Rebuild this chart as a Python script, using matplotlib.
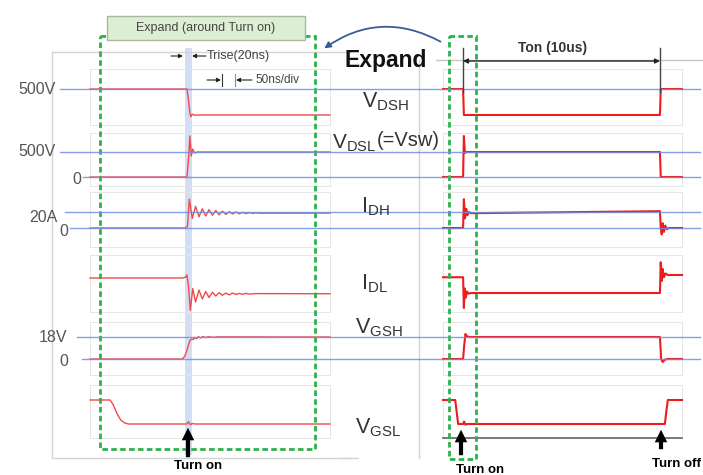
import matplotlib.pyplot as plt
from matplotlib.patches import Rectangle, FancyArrowPatch

plt.rcParams['font.family'] = ['Liberation Sans', 'DejaVu Sans']
plt.rcParams['mathtext.fontset'] = 'custom'
plt.rcParams['mathtext.rm'] = 'Liberation Sans'
plt.rcParams['mathtext.it'] = 'Liberation Sans'

W, H = 703, 475

# ---- expanded view around turn on (time in ns, 0 = turn on)
t_vdsh_l = [-204, -2, 1, 4, 6, 9, 14, 22, 296]
v_vdsh_l = [500, 500, 300, 40, -30, 15, -5, 0, 0]

t_vdsl_l = [-204, -2, 2, 4, 7, 10, 14, 20, 296]
v_vdsl_l = [0, 0, 450, 820, 420, 560, 480, 500, 500]

t_idh_l = [-204, -6, -1, 3, 9, 16, 23, 30, 37, 44, 51, 58, 65, 72, 79, 86, 93, 100,
           107, 114, 121, 128, 135, 142, 150, 296]
v_idh_l = [0, 0, 2, 36, 12, 27, 14, 24, 15, 23, 16, 22, 16.5, 21, 17, 20.5, 17.5, 20,
           17.8, 19.6, 18, 19.3, 18.3, 19, 18.5, 18.7]

t_idl_l = [-204, -12, -5, -2, 1, 5, 10, 16, 23, 30, 37, 44, 51, 58, 65, 72, 79, 86,
           93, 100, 107, 114, 121, 128, 140, 296]
v_idl_l = [20, 20, 21, 24, 10, -23, 6, -12, 4, -8, 2, -6, 1, -4, 0.5, -3, 0, -2.5,
           0, -2, -0.5, -1.8, -0.5, -1.5, -0.8, -1]

t_vgsh_l = [-204, -12, -7, -3, 1, 4, 8, 11, 14, 18, 22, 26, 31, 36, 43, 53, 63, 296]
v_vgsh_l = [0, 0, 2, 6, 11, 15, 16.5, 15.8, 17.6, 16.6, 18.3, 17.2, 18.4, 17.6, 18.2,
            17.8, 18.1, 18]

t_vgsl_l = [-204, -162, -155, -148, -140, -132, -124, -2, 1, 5, 9, 14, 296]
v_vgsl_l = [18, 18, 14, 8, 3, 0.8, 0, 0, 1.8, -0.6, 0.4, 0, 0]

# ---- full switching period (time in us, 0 = turn on)
t_vdsh_r = [-1.02, 0, 0.04, 10.0, 10.04, 11.12]
v_vdsh_r = [500, 500, 0, 0, 500, 500]

t_vdsl_r = [-1.02, 0, 0.04, 0.09, 0.15, 10.0, 10.04, 11.12]
v_vdsl_r = [0, 0, 820, 480, 500, 500, 0, 0]

t_idh_r = [-1.02, 0, 0.04, 0.1, 0.16, 0.22, 0.3, 0.4, 10.0, 10.04, 10.09, 10.14,
           10.2, 10.27, 10.35, 10.45, 11.12]
v_idh_r = [0, 0, 36, 12, 24, 16, 20, 18.5, 21, 0, -8, 6, -5, 3, -1.5, 0, 0]

t_idl_r = [-1.02, 0, 0.04, 0.09, 0.14, 0.2, 0.28, 0.4, 10.0, 10.04, 10.09, 10.14,
           10.2, 10.28, 10.4, 11.12]
v_idl_r = [21, 21, -20, 6, -6, 2, -1, 0, 0, 41, 16, 32, 21, 26, 24, 24]

t_vgsh_r = [-1.02, 0, 0.05, 0.12, 0.2, 0.3, 10.0, 10.06, 10.14, 10.25, 10.4, 11.12]
v_vgsh_r = [0, 0, 10, 20.5, 18.5, 18, 18, 0, -2.5, -0.5, 0, 0]

t_vgsl_r = [-1.02, -0.4, -0.25, 0.0, 0.05, 0.12, 0.2, 10.25, 10.32, 10.4, 11.12]
v_vgsl_r = [18, 18, 0, 0, 1.8, -0.5, 0, 0, 9, 18, 18]

# channel rows: (pixel y of 0, pixel y of ref level, ref value)
rows = [(115, 89, 500), (177, 152, 500), (228, 212, 20),
        (293, 278, 20), (359, 337, 18), (424, 400, 18)]
left_traces = [(t_vdsh_l, v_vdsh_l), (t_vdsl_l, v_vdsl_l), (t_idh_l, v_idh_l),
               (t_idl_l, v_idl_l), (t_vgsh_l, v_vgsh_l), (t_vgsl_l, v_vgsl_l)]
right_traces = [(t_vdsh_r, v_vdsh_r), (t_vdsl_r, v_vdsl_r), (t_idh_r, v_idh_r),
                (t_idl_r, v_idl_r), (t_vgsh_r, v_vgsh_r), (t_vgsl_r, v_vgsl_r)]
boxes = [(69, 125), (133, 186), (192, 247), (255, 312), (322, 375), (385, 438)]

fig = plt.figure(figsize=(W / 100, H / 100), dpi=100)

# background: frames and graticule
bg = fig.add_axes([0, 0, 1, 1])
bg.set_xlim(0, W)
bg.set_ylim(H, 0)
bg.axis('off')
grid_c = '#e6e6e6'
bg.plot([52, 52, 350], [52, 458, 458], color='#d4d4d4', lw=1)
bg.plot([52, 350], [52, 52], color='#d4d4d4', lw=1)
bg.plot([340, 358], [458, 458], color='#d4d4d4', lw=1)
bg.plot([419, 419], [60, 458], color='#d4d4d4', lw=1)
bg.plot([436, W], [60, 60], color='#c8c8c8', lw=1)
for top, bot in boxes:
    for x0, x1 in [(90, 330), (443, 682)]:
        bg.plot([x0, x1, x1, x0, x0], [top, top, bot, bot, top], color=grid_c, lw=0.7)
bg.plot([443, 682], [438, 438], color='#666666', lw=1.2)
bg.add_patch(Rectangle((185, 48), 7, 407, facecolor='#c9d5f0', edgecolor='none', alpha=0.8))

# waveforms
for (yz, yr, ref), (tl, vl), (tr, vr) in zip(rows, left_traces, right_traces):
    for x0, x1, xlim, t, v, col, lw in [(90, 330, (-204, 296), tl, vl, '#f24a4a', 1.0),
                                        (443, 682, (-1.02, 11.12), tr, vr, '#ee1c1c', 1.5)]:
        ax = fig.add_axes([x0 / W, 1 - yz / H, (x1 - x0) / W, (yz - yr) / H])
        ax.set_xlim(*xlim)
        ax.set_ylim(0, ref)
        ax.axis('off')
        ax.patch.set_alpha(0)
        ax.plot(t, v, color=col, lw=lw, clip_on=False)

# foreground: reference lines, boxes, text
fg = fig.add_axes([0, 0, 1, 1])
fg.set_xlim(0, W)
fg.set_ylim(H, 0)
fg.axis('off')
fg.patch.set_alpha(0)

blue_lines = [(89, 60), (152, 60), (177, 83), (212, 65), (228, 70), (337, 77), (359, 82)]
for y, xs in blue_lines:
    fg.plot([xs, 700], [y, y], color='#6f8fe0', lw=1.0, alpha=0.85)

lab_c = '#555555'
fg.text(56, 89, '500V', ha='right', va='center', fontsize=11.5, color=lab_c)
fg.text(56, 152, '500V', ha='right', va='center', fontsize=11.5, color=lab_c)
fg.text(77, 179, '0', ha='center', va='center', fontsize=11.5, color=lab_c)
fg.text(57, 218, '20A', ha='right', va='center', fontsize=11.5, color=lab_c)
fg.text(64, 232, '0', ha='center', va='center', fontsize=11.5, color=lab_c)
fg.text(67, 338, '18V', ha='right', va='center', fontsize=11.5, color=lab_c)
fg.text(64, 361, '0', ha='center', va='center', fontsize=11.5, color=lab_c)

# green "expand" boxes
g_c = '#2bb24c'
fg.add_patch(Rectangle((100, 36), 215, 413, fill=False, edgecolor=g_c, lw=2,
                       linestyle=(0, (2, 1.2))))
fg.add_patch(Rectangle((449, 36), 27, 423, fill=False, edgecolor=g_c, lw=2,
                       linestyle=(0, (2, 1.2))))
fg.add_patch(Rectangle((107, 16), 198, 24, facecolor='#ddefd3', edgecolor='#a8b8a0', lw=1))
fg.text(206, 28, 'Expand (around Turn on)', ha='center', va='center', fontsize=9, color='#444444')

# Trise / 50ns/div annotations
sm = dict(arrowstyle='-|>', color='#222222', lw=0.8, mutation_scale=6, shrinkA=0, shrinkB=0)
fg.annotate('', xy=(183, 56), xytext=(171, 56), arrowprops=sm)
fg.annotate('', xy=(192, 56), xytext=(206, 56), arrowprops=sm)
fg.text(207, 56, 'Trise(20ns)', ha='left', va='center', fontsize=9, color='#444444')
fg.annotate('', xy=(221, 80), xytext=(207, 80), arrowprops=sm)
fg.annotate('', xy=(236, 80), xytext=(252, 80), arrowprops=sm)
fg.plot([222, 222], [74, 86], color='#333333', lw=0.8)
fg.plot([235, 235], [74, 86], color='#6f8fe0', lw=0.8)
fg.text(255, 80, '50ns/div', ha='left', va='center', fontsize=8.5, color='#444444')

# Expand + curved arrow
fg.text(345, 60, 'Expand', ha='left', va='center', fontsize=16.5, fontweight='bold', color='#111111')
fg.add_patch(FancyArrowPatch((443, 43), (322, 50), connectionstyle='arc3,rad=0.32',
                             arrowstyle='-|>', mutation_scale=9, color='#3b5b98', lw=1.3))

# channel names
name_c = '#333333'
fg.text(362, 102, r'$\mathrm{V_{DSH}}$', ha='left', va='center', fontsize=15.5, color=name_c)
fg.text(332, 143, r'$\mathrm{V_{DSL}}$', ha='left', va='center', fontsize=15, color=name_c)
fg.text(377, 140, '(=Vsw)', ha='left', va='center', fontsize=14.5, color=name_c)
fg.text(361, 207, r'$\mathrm{I_{DH}}$', ha='left', va='center', fontsize=15.5, color=name_c)
fg.text(361, 284, r'$\mathrm{I_{DL}}$', ha='left', va='center', fontsize=15.5, color=name_c)
fg.text(355, 328, r'$\mathrm{V_{GSH}}$', ha='left', va='center', fontsize=15.5, color=name_c)
fg.text(355, 428, r'$\mathrm{V_{GSL}}$', ha='left', va='center', fontsize=15.5, color=name_c)

# Ton annotation
fg.plot([463, 463], [48, 92], color='#444444', lw=1)
fg.plot([660, 660], [48, 92], color='#444444', lw=1)
fg.annotate('', xy=(463, 61), xytext=(660, 61),
            arrowprops=dict(arrowstyle='<|-|>', color='#222222', lw=1, mutation_scale=7,
                            shrinkA=0, shrinkB=0))
fg.text(553, 48, 'Ton (10us)', ha='center', va='center', fontsize=10, fontweight='bold', color='#333333')

# turn on / off markers
for x, y0, y1 in [(188, 460, 425), (461, 458, 427), (661, 452, 427)]:
    fg.add_patch(FancyArrowPatch((x, y0), (x, y1),
                                 arrowstyle='simple,head_width=0.9,head_length=0.9,tail_width=0.3',
                                 mutation_scale=10, color='black', lw=0))
fg.text(198, 466, 'Turn on', ha='center', va='center', fontsize=9.5, fontweight='bold')
fg.text(480, 470, 'Turn on', ha='center', va='center', fontsize=9.5, fontweight='bold')
fg.text(677, 464, 'Turn off', ha='center', va='center', fontsize=9.5, fontweight='bold')

fig.savefig('out.png', dpi=100)
